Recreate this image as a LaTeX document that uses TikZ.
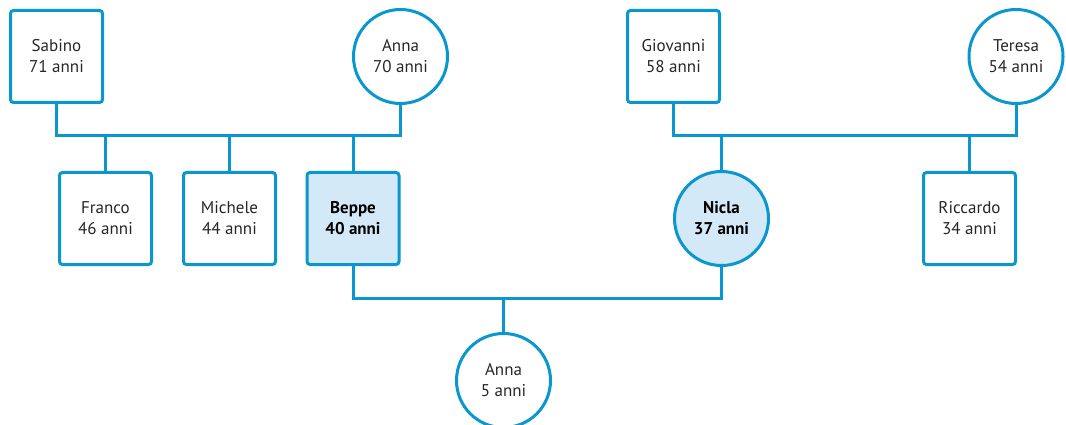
\documentclass[tikz,border=0pt]{standalone}
\usepackage{fontspec}
\setmainfont{PT Sans}
\definecolor{lineblue}{HTML}{0A96CF}
\definecolor{fillblue}{HTML}{D3E9F7}
\begin{document}
\begin{tikzpicture}[x=1pt,y=-1pt,
  every node/.style={font=\fontsize{17}{21}\selectfont, align=center, text=black!85, inner sep=0pt},
  man/.style={draw=lineblue, line width=3pt, rounded corners=3pt, minimum width=92pt, minimum height=92pt},
  woman/.style={draw=lineblue, line width=3pt, circle, minimum size=94pt},
  hl/.style={fill=fillblue, font=\fontsize{17}{21}\selectfont\bfseries, text=black},
  link/.style={draw=lineblue, line width=3pt, line join=miter}]
\useasboundingbox (0,0) rectangle (1066,425);
% grandparents
\node[man] (sabino) at (56.5,56.5) {Sabino\\71 anni};
\node[woman] (anna1) at (400.5,56.5) {Anna\\70 anni};
\node[man] (giovanni) at (673.5,56.5) {Giovanni\\58 anni};
\node[woman] (teresa) at (1016,56.5) {Teresa\\54 anni};
% children
\node[man] (franco) at (105.5,218.5) {Franco\\46 anni};
\node[man] (michele) at (229.5,218.5) {Michele\\44 anni};
\node[man,hl] (beppe) at (353,218.5) {Beppe\\40 anni};
\node[woman,hl] (nicla) at (721.5,218.5) {Nicla\\37 anni};
\node[man] (riccardo) at (969.5,218.5) {Riccardo\\34 anni};
% grandchild
\node[woman] (anna2) at (503.5,380.5) {Anna\\5 anni};
% junctions
\coordinate (j1) at (228,136);
\coordinate (j2) at (845,136);
\coordinate (j3) at (504,298);
% connectors
\draw[link] (sabino.south) |- (j1) -| (anna1.south);
\draw[link] (franco.north) -- (franco.north |- j1);
\draw[link] (michele.north) -- (michele.north |- j1);
\draw[link] (beppe.north) -- (beppe.north |- j1);
\draw[link] (giovanni.south) |- (j2) -| (teresa.south);
\draw[link] (nicla.north) -- (nicla.north |- j2);
\draw[link] (riccardo.north) -- (riccardo.north |- j2);
\draw[link] (beppe.south) |- (j3) -| (nicla.south);
\draw[link] (anna2.north) -- (anna2.north |- j3);
\end{tikzpicture}
\end{document}
